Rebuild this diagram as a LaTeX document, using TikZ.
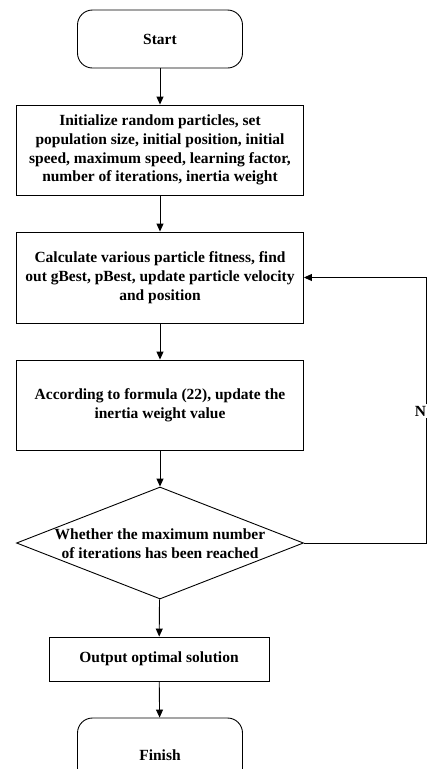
\documentclass[tikz,border=0pt]{standalone}
\usepackage{fontspec}
\setmainfont{Liberation Serif}
\usetikzlibrary{arrows.meta,shapes.geometric}
\begin{document}
\begin{tikzpicture}[x=1pt,y=-1pt,
  every node/.style={font=\bfseries\fontsize{15.5}{18.7}\selectfont, align=center, line width=0.9pt},
  term/.style={draw, rounded corners=15pt, minimum width=165pt, inner sep=0pt},
  procbox/.style={draw, minimum width=287pt, minimum height=90pt, inner sep=0pt},
  decbox/.style={draw, diamond, minimum width=287pt, minimum height=112pt, inner sep=0pt},
  conn/.style={line width=0.9pt, -{Triangle[length=8pt,width=7pt]}}
]
\useasboundingbox (0,0) rectangle (428,769);
\node[term, minimum height=58pt] (start) at (160,39) {Start};
\node[procbox] (init) at (160,150) {Initialize random particles, set\\population size, initial position, initial\\speed, maximum speed, learning factor,\\number of iterations, inertia weight};
\node[procbox, minimum height=91pt] (calc) at (160,277.5) {Calculate various particle fitness, find\\out gBest, pBest, update particle velocity\\and position};
\node[procbox] (upd) at (160,405) {According to formula (22), update the\\inertia weight value};
\node[decbox] (dec) at (160,543) {};
\node (dectext) at (160,544) {Whether the maximum number\\of iterations has been reached};
\node[draw, minimum width=220pt, minimum height=44pt, inner sep=0pt] (out) at (159,659) {Output optimal solution};
\node[term, minimum height=74pt] (finish) at (160,755) {Finish};
\coordinate (c1) at (426,543);
\coordinate (c2) at (426,277.5);
\node[fill=white, inner sep=1pt] (nlab) at (420.5,411) {N};
\draw[conn] (start) -- (init);
\draw[conn] (init) -- (calc);
\draw[conn] (calc) -- (upd);
\draw[conn] (upd) -- (dec);
\draw[conn] (dec) -- (out);
\draw[conn] (out) -- (finish);
\draw[line width=0.9pt] (dec.east) -- (c1) -- (nlab.south -| c1);
\draw[conn] (nlab.north -| c1) -- (c2) -- (calc.east);
\end{tikzpicture}
\end{document}
